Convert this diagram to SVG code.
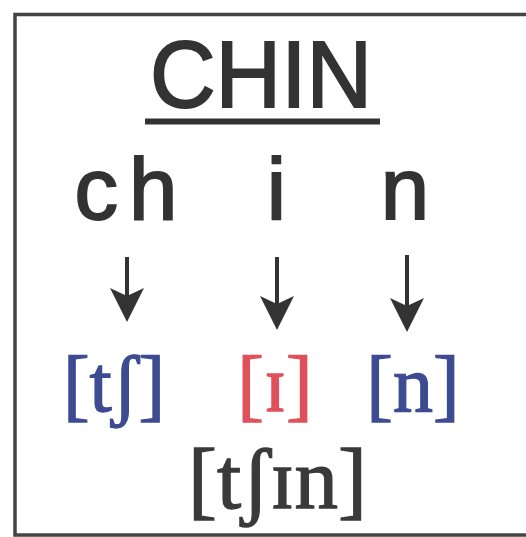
<svg xmlns="http://www.w3.org/2000/svg" width="526" height="537" viewBox="0 0 526 537">
  <defs>
    <style>
      .sans { font-family: "Liberation Sans", Arial, sans-serif; fill: #333333; stroke: #333333; stroke-width: 2; text-anchor: middle; }
      .ipa { font-family: "Liberation Serif", "DejaVu Serif", serif; text-anchor: middle; stroke-width: 1.3; }
      .blue { fill: #3d4b91; stroke: #3d4b91; }
      .red { fill: #e0505a; stroke: #e0505a; }
      .dark { fill: #3a3a3a; stroke: #3a3a3a; }
      .arrow { stroke: #333333; stroke-width: 4; fill: none; marker-end: url(#head); }
    </style>
    <marker id="head" viewBox="0 0 34 34" refX="24" refY="17" markerWidth="34" markerHeight="34" markerUnits="userSpaceOnUse" orient="auto">
      <path d="M0,0 L34,17 L0,34 L8,17 Z" fill="#333333"/>
    </marker>
  </defs>
  <rect width="526" height="537" fill="#ffffff"/>
  <rect id="frame" x="15" y="14.5" width="530" height="520.5" fill="none" stroke="#444444" stroke-width="3.5"/>

  <g id="title">
    <text class="sans" x="261" y="107" font-size="95" textLength="222" lengthAdjust="spacingAndGlyphs">CHIN</text>
    <rect x="145" y="118.5" width="235" height="6" fill="#333333"/>
  </g>

  <g id="letter-ch"><text class="sans" x="74.5" y="219" font-size="87" style="text-anchor:start" letter-spacing="11">ch</text></g>
  <g id="letter-i"><text class="sans" x="276.5" y="219" font-size="87">i</text></g>
  <g id="letter-n"><text class="sans" x="405" y="219" font-size="87">n</text></g>

  <g id="connectors">
    <line class="arrow" x1="127" y1="257" x2="127" y2="312"/>
    <line class="arrow" x1="277" y1="257" x2="277" y2="320"/>
    <line class="arrow" x1="407" y1="255" x2="407" y2="322"/>
  </g>

  <g id="ipa-ch"><text class="ipa blue" x="114" y="411" font-size="80">[tʃ]</text></g>
  <g id="ipa-i"><text class="ipa red" x="275" y="411" font-size="80">[ɪ]</text></g>
  <g id="ipa-n"><text class="ipa blue" x="413" y="411" font-size="80">[n]</text></g>

  <g id="ipa-word"><text class="ipa dark" x="277.5" y="508" font-size="87">[tʃɪn]</text></g>
</svg>
